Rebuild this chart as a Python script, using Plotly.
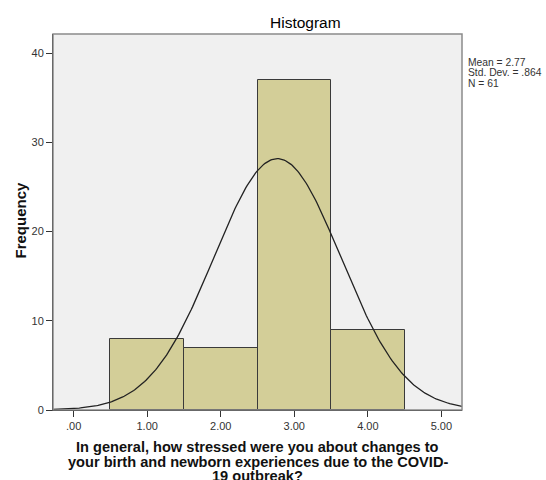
import numpy as np
import plotly.graph_objects as go

# Data
bin_centers = [1.0, 2.0, 3.0, 4.0]
frequencies = [8, 7, 37, 9]
x_tick_vals = [0, 1, 2, 3, 4, 5]
x_tick_text = [".00", "1.00", "2.00", "3.00", "4.00", "5.00"]
y_tick_vals = [0, 10, 20, 30, 40]
mean_val = 2.77
sd_val = 0.864
n_val = 61
bin_width = 1.0
stats_lines = ["Mean = 2.77", "Std. Dev. = .864", "N = 61"]
x_title_lines = [
    "In general, how stressed were you about changes to",
    "your birth and newborn experiences due to the COVID-",
    "19 outbreak?",
]

x_range = [-0.28, 5.28]
y_range = [0, 42.13]

# Fitted normal curve from the reported statistics
xs = np.linspace(x_range[0], x_range[1], 300)
ys = n_val * bin_width / (sd_val * np.sqrt(2 * np.pi)) * np.exp(-0.5 * ((xs - mean_val) / sd_val) ** 2)

FONT = "Arial, Liberation Sans, sans-serif"

fig = go.Figure()
fig.add_trace(go.Bar(
    x=bin_centers, y=frequencies, width=bin_width,
    marker=dict(color="#d3ce98", line=dict(color="#3a3a3a", width=1)),
    hoverinfo="x+y",
))
fig.add_trace(go.Scatter(
    x=xs, y=ys, mode="lines",
    line=dict(color="#222222", width=1.3),
    hoverinfo="skip",
))

W, H = 546, 480
L, R, T, B = 53, 84, 34, 70
PW, PH = W - L - R, H - T - B

def px(x):
    return (x - L) / PW

def py(y):
    return 1 - (y - T) / PH

annotations = []
for i, line in enumerate(stats_lines):
    annotations.append(dict(text=line, xref="paper", yref="paper",
                            x=px(467), y=py(62.5 + 10.3 * i), xanchor="left", yanchor="middle",
                            align="left", showarrow=False, borderpad=0,
                            font=dict(family=FONT, size=10.3, color="#333333")))
for i, line in enumerate(x_title_lines):
    annotations.append(dict(text="<b>" + line + "</b>", xref="paper", yref="paper",
                            x=px(257.5), y=py(447.5 + 14.3 * i), xanchor="center", yanchor="middle",
                            showarrow=False, borderpad=0,
                            font=dict(family=FONT, size=14.6, color="#111111")))
annotations.append(dict(text="<b>Frequency</b>", xref="paper", yref="paper", x=px(20),
                        y=py(220.5), xanchor="center", yanchor="middle", textangle=-90,
                        showarrow=False, font=dict(family=FONT, size=15, color="#111111")))
annotations.append(dict(text="Histogram", xref="paper", yref="paper", x=px(305.5),
                        y=py(23), xanchor="center", yanchor="middle",
                        showarrow=False, font=dict(family=FONT, size=15.5, color="#000000")))

fig.update_layout(
    width=W, height=H,
    margin=dict(l=L, r=R, t=T, b=B),
    paper_bgcolor="white",
    plot_bgcolor="#f0f0f0",
    showlegend=False,
    bargap=0,
    font=dict(family=FONT, color="#222222"),
    xaxis=dict(
        range=x_range, tickvals=x_tick_vals, ticktext=x_tick_text,
        showgrid=False, zeroline=False,
        showline=True, linecolor="#000000", linewidth=1,
        ticks="outside", ticklen=6, tickcolor="#333333",
        tickfont=dict(family=FONT, size=11, color="#333333"),
    ),
    yaxis=dict(
        range=y_range, tickvals=y_tick_vals,
        showgrid=False, zeroline=False,
        showline=True, linecolor="#000000", linewidth=1,
        ticks="outside", ticklen=6, tickcolor="#333333",
        tickfont=dict(family=FONT, size=11, color="#333333"),
    ),
    shapes=[dict(type="rect", xref="paper", yref="paper", x0=0, x1=1, y0=0, y1=1,
                 line=dict(color="#8a8a8a", width=1.5), layer="above")],
    annotations=annotations,
)

fig.write_html("out.html", config={"displayModeBar": False},
               post_script="document.body.style.margin='0';document.body.style.overflow='hidden';")
